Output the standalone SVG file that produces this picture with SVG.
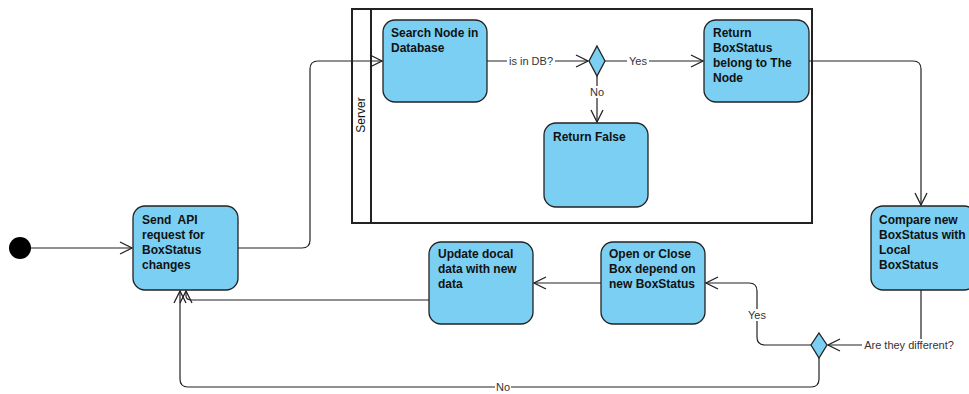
<svg xmlns="http://www.w3.org/2000/svg" width="969" height="394" viewBox="0 0 969 394">
<defs>
<marker id="arr" viewBox="0 0 14 14" refX="13" refY="7" markerWidth="14" markerHeight="14" markerUnits="userSpaceOnUse" orient="auto">
<path d="M1,1 L13,7 L1,13" fill="none" stroke="#222" stroke-width="1.3"/>
</marker>
</defs>
<style>
.node{fill:#7bcff3;stroke:#222;stroke-width:1.3}
.t{font-family:"Liberation Sans",Arial,sans-serif;font-size:12px;font-weight:bold;fill:#111}
.lbl{font-family:"Liberation Sans",Arial,sans-serif;font-size:11px;fill:#333}
.lb{fill:#fff}
.c{fill:none;stroke:#222;stroke-width:1.2}
</style>
<rect width="969" height="394" fill="#fff"/>
<g id="server-lane">
<rect x="352" y="9" width="460" height="214" fill="#fff" stroke="#222" stroke-width="2"/>
<line x1="371" y1="9" x2="371" y2="223" stroke="#222" stroke-width="2"/>
<text x="0" y="0" transform="translate(365,115) rotate(-90)" text-anchor="middle" font-family="Liberation Sans, Arial, sans-serif" font-size="12" fill="#111">Server</text>
</g>
<g id="start"><circle cx="20" cy="248" r="11" fill="#000"/></g>
<g id="send">
<rect class="node" x="133" y="206" width="105" height="84" rx="12"/>
<text class="t" x="142" y="224" xml:space="preserve">Send  API</text>
<text class="t" x="142" y="239">request for</text>
<text class="t" x="142" y="254">BoxStatus</text>
<text class="t" x="142" y="269">changes</text>
</g>
<g id="search">
<rect class="node" x="383" y="20" width="104" height="82" rx="12"/>
<text class="t" x="391" y="37">Search Node in</text>
<text class="t" x="391" y="52">Database</text>
</g>
<g id="dec1"><path class="node" d="M597,46 L605,61 L597,76 L589,61 Z"/></g>
<g id="returnbox">
<rect class="node" x="704" y="20" width="105" height="82" rx="12"/>
<text class="t" x="713" y="37">Return</text>
<text class="t" x="713" y="52">BoxStatus</text>
<text class="t" x="713" y="67">belong to The</text>
<text class="t" x="713" y="82">Node</text>
</g>
<g id="returnfalse">
<rect class="node" x="544" y="123" width="104" height="84" rx="12"/>
<text class="t" x="553" y="141">Return False</text>
</g>
<g id="compare">
<rect class="node" x="871" y="206" width="105" height="84" rx="12"/>
<text class="t" x="879" y="224">Compare new</text>
<text class="t" x="879" y="239">BoxStatus with</text>
<text class="t" x="879" y="254">Local</text>
<text class="t" x="879" y="269">BoxStatus</text>
</g>
<g id="dec2"><path class="node" d="M819,333 L827,345 L819,358 L811,345 Z"/></g>
<g id="open">
<rect class="node" x="601" y="242" width="104" height="82" rx="12"/>
<text class="t" x="609" y="258">Open or Close</text>
<text class="t" x="609" y="273">Box depend on</text>
<text class="t" x="609" y="288">new BoxStatus</text>
</g>
<g id="update">
<rect class="node" x="429" y="242" width="104" height="82" rx="12"/>
<text class="t" x="438" y="258">Update docal</text>
<text class="t" x="438" y="273">data with new</text>
<text class="t" x="438" y="288">data</text>
</g>
<g id="connectors">
<path class="c" d="M31,248 L132,248" marker-end="url(#arr)"/>
<path class="c" d="M238,248 L302,248 Q310,248 310,240 L310,69 Q310,61 318,61 L382,61" marker-end="url(#arr)"/>
<path class="c" d="M487,61 L588,61" marker-end="url(#arr)"/>
<path class="c" d="M605,61 L703,61" marker-end="url(#arr)"/>
<path class="c" d="M597,76 L597,122" marker-end="url(#arr)"/>
<path class="c" d="M809,61 L913,61 Q921,61 921,69 L921,205" marker-end="url(#arr)"/>
<path class="c" d="M921,290 L921,345 L828,345" marker-end="url(#arr)"/>
<path class="c" d="M811,345 L765,345 Q757,345 757,337 L757,291 Q757,283 749,283 L706,283" marker-end="url(#arr)"/>
<path class="c" d="M601,283 L534,283" marker-end="url(#arr)"/>
<path class="c" d="M429,300 L192,300 Q186,300 186,296 L186,291" marker-end="url(#arr)"/>
<path class="c" d="M819,358 L819,379 Q819,387 811,387 L188,387 Q180,387 180,379 L180,291" marker-end="url(#arr)"/>
<rect class="lb" x="507" y="55" width="48" height="12"/>
<text class="lbl" x="531" y="65" text-anchor="middle">is in DB?</text>
<rect class="lb" x="627" y="55" width="22" height="12"/>
<text class="lbl" x="638" y="65" text-anchor="middle">Yes</text>
<rect class="lb" x="589" y="86" width="16" height="12"/>
<text class="lbl" x="597" y="96" text-anchor="middle">No</text>
<rect class="lb" x="862" y="339" width="94" height="12"/>
<text class="lbl" x="909" y="349" text-anchor="middle">Are they different?</text>
<rect class="lb" x="746" y="309" width="22" height="12"/>
<text class="lbl" x="757" y="319" text-anchor="middle">Yes</text>
<rect class="lb" x="495" y="381" width="16" height="12"/>
<text class="lbl" x="503" y="391" text-anchor="middle">No</text>
</g>
</svg>
